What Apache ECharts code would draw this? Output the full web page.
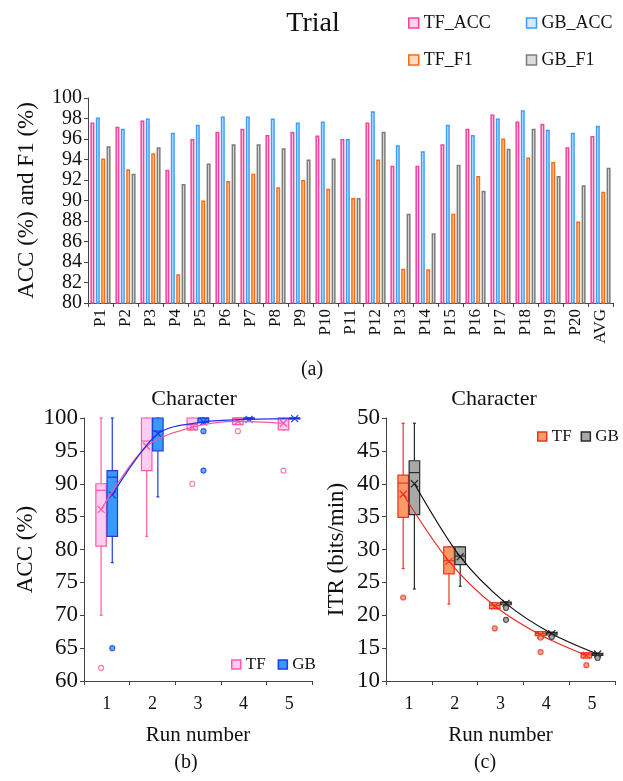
<!DOCTYPE html>
<html>
<head>
<meta charset="utf-8">
<script src="https://cdn.jsdelivr.net/npm/echarts@6/dist/echarts.min.js"></script>
<style>
  html, body { margin: 0; padding: 0; background: #fff; }
  #chart { width: 623px; height: 781px; }
</style>
</head>
<body>
<div id="chart"></div>
<script>
// ---------- (a) per-participant accuracy and F1 ----------
const participants = ['P1','P2','P3','P4','P5','P6','P7','P8','P9','P10','P11','P12','P13','P14','P15','P16','P17','P18','P19','P20','AVG'];
const tfAcc = [97.6, 97.2, 97.8, 93.0, 96.0, 96.7, 97.0, 96.4, 96.7, 96.35, 96.0, 97.6, 93.4, 93.4, 95.5, 97.0, 98.4, 97.7, 97.5, 95.2, 96.3];
const gbAcc = [98.1, 97.0, 98.0, 96.6, 97.4, 98.2, 98.2, 98.0, 97.6, 97.7, 96.0, 98.7, 95.4, 94.8, 97.4, 96.4, 98.0, 98.8, 96.9, 96.6, 97.3];
const tfF1  = [94.1, 93.05, 94.6, 82.8, 90.0, 91.9, 92.6, 91.3, 92.0, 91.15, 90.25, 94.0, 83.35, 83.3, 88.7, 92.4, 96.05, 94.2, 93.75, 87.95, 90.85];
const gbF1  = [95.3, 92.6, 95.2, 91.6, 93.6, 95.5, 95.5, 95.1, 94.0, 94.1, 90.25, 96.7, 88.7, 86.8, 93.5, 90.95, 95.05, 97.0, 92.4, 91.5, 93.2];

// ---------- (b) ACC per run number ----------
const runs = ['1', '2', '3', '4', '5'];
const accTfLow  = [70, 82, 98.2, 99, 98.2];
const accTfQ1   = [80.5, 92, 98.2, 99, 98.2];
const accTfMed  = [89, 96.5, 99, 100, 100];
const accTfQ3   = [90, 100, 100, 100, 100];
const accTfHigh = [100, 100, 100, 100, 100];
const accTfMean = [86.1, 95.7, 98.6, 99.5, 99.2];
const accTfOut  = [[1, 62], [3, 90], [4, 98], [5, 92]];

const accGbLow  = [78, 88, 99, 100, 100];
const accGbQ1   = [82, 95, 99.3, 100, 100];
const accGbMed  = [91, 98, 100, 100, 100];
const accGbQ3   = [92, 100, 100, 100, 100];
const accGbHigh = [100, 100, 100, 100, 100];
const accGbMean = [88.3, 97.6, 99.4, 99.8, 99.9];
const accGbOut  = [[1, 65], [3, 98], [3, 92]];

// ---------- (c) ITR per run number ----------
const itrTfLow  = [27.1, 21.7, 21.0, 16.9, 13.5];
const itrTfQ1   = [34.9, 26.3, 21.0, 16.9, 13.5];
const itrTfMed  = [40.1, 28.3, 21.5, 17.2, 14.0];
const itrTfQ3   = [41.3, 30.4, 21.9, 17.5, 14.3];
const itrTfHigh = [49.2, 30.4, 21.9, 17.5, 14.3];
const itrTfMean = [38.4, 28.2, 21.4, 17.0, 13.9];
const itrTfOut  = [[1, 22.7], [3, 18.0], [4, 16.6], [4, 14.4], [5, 12.4]];

const itrGbLow  = [24.0, 24.4, 21.6, 17.0, 13.9];
const itrGbQ1   = [35.3, 27.7, 21.6, 17.0, 13.9];
const itrGbMed  = [41.7, 29.0, 21.9, 17.3, 14.1];
const itrGbQ3   = [43.5, 30.4, 22.0, 17.4, 14.2];
const itrGbHigh = [49.2, 30.4, 22.0, 17.4, 14.2];
const itrGbMean = [40.0, 28.9, 21.8, 17.2, 14.1];
const itrGbOut  = [[3, 21.1], [3, 19.3], [4, 16.7], [5, 13.5]];

// ---------- styling ----------
const FONT = "'Liberation Serif', 'Times New Roman', serif";
const INK = '#111';
const AXIS = '#444';
const OFF_TF = -0.125, OFF_GB = 0.12, BOX_W = 0.23;

const barStyles = {
  TF_ACC: { fill: '#ffd3ea', stroke: '#ff3d9e' },
  GB_ACC: { fill: '#d3e9ff', stroke: '#3b9dff' },
  TF_F1:  { fill: '#ffdcc2', stroke: '#ff6a10' },
  GB_F1:  { fill: '#dcdcdc', stroke: '#7c7c7c' }
};
const boxStyles = {
  accTF: { fill: '#ffccf2', stroke: '#ff5aa5', line: '#ff5a9e' },
  accGB: { fill: '#3a98ff', stroke: '#1e3ee0', line: '#1f2fea' },
  itrTF: { fill: '#ff9a66', stroke: '#ee3322', line: '#ee2a1e' },
  itrGB: { fill: '#a9a9a9', stroke: '#2a2a2a', line: '#111111' }
};

function boxRows(low, q1, med, q3, high, mean) {
  return runs.map((r, i) => [i + 1, low[i], q1[i], med[i], q3[i], high[i], mean[i]]);
}

// box, whiskers, median and an "x" at the mean
function boxRenderer(off, st) {
  return function (params, api) {
    const x = api.value(0) + off;
    const p = v => api.coord([x, v]);
    const half = api.size([BOX_W, 0])[0] / 2;
    const cx = p(api.value(1))[0];
    const yLow = p(api.value(1))[1], yQ1 = p(api.value(2))[1], yMed = p(api.value(3))[1];
    const yQ3 = p(api.value(4))[1], yHigh = p(api.value(5))[1], yMean = p(api.value(6))[1];
    const ls = { stroke: st.stroke, lineWidth: 1.2 };
    const k = 3.5;
    return {
      type: 'group',
      children: [
        { type: 'line', shape: { x1: cx, y1: yLow, x2: cx, y2: yQ1 }, style: ls },
        { type: 'line', shape: { x1: cx, y1: yQ3, x2: cx, y2: yHigh }, style: ls },
        { type: 'line', shape: { x1: cx - 1.5, y1: yLow, x2: cx + 1.5, y2: yLow }, style: ls },
        { type: 'line', shape: { x1: cx - 1.5, y1: yHigh, x2: cx + 1.5, y2: yHigh }, style: ls },
        { type: 'rect', shape: { x: cx - half, y: yQ3, width: half * 2, height: Math.max(yQ1 - yQ3, 1) },
          style: { fill: st.fill, stroke: st.stroke, lineWidth: 1.2 } },
        { type: 'line', shape: { x1: cx - half, y1: yMed, x2: cx + half, y2: yMed }, style: ls },
        { type: 'line', shape: { x1: cx - k, y1: yMean - k, x2: cx + k, y2: yMean + k }, style: ls },
        { type: 'line', shape: { x1: cx - k, y1: yMean + k, x2: cx + k, y2: yMean - k }, style: ls }
      ]
    };
  };
}

function boxSeries(name, axisIdx, rows, off, st) {
  return {
    name: name, type: 'custom', xAxisIndex: axisIdx, yAxisIndex: axisIdx,
    renderItem: boxRenderer(off, st),
    itemStyle: { color: st.fill, borderColor: st.stroke, borderWidth: 1 },
    encode: { x: 0, y: [1, 2, 3, 4, 5, 6] },
    data: rows, z: 2
  };
}
function meanLine(axisIdx, mean, off, st) {
  return {
    type: 'line', xAxisIndex: axisIdx, yAxisIndex: axisIdx, smooth: 0.3,
    symbol: 'none', lineStyle: { color: st.line, width: 1.2 },
    data: mean.map((v, i) => [i + 1 + off, v]), z: 3, silent: true
  };
}
function outlierSeries(axisIdx, pts, off, st, filled) {
  return {
    type: 'scatter', xAxisIndex: axisIdx, yAxisIndex: axisIdx,
    symbol: 'circle', symbolSize: 5,
    itemStyle: { color: filled ? st.fill : '#fff', borderColor: st.stroke, borderWidth: 1.2 },
    data: pts.map(d => [d[0] + off, d[1]]), z: 4, silent: true
  };
}

const barSeries = [
  ['TF_ACC', tfAcc], ['GB_ACC', gbAcc], ['TF_F1', tfF1], ['GB_F1', gbF1]
].map(([name, vals]) => ({
  name: name, type: 'bar', xAxisIndex: 0, yAxisIndex: 0,
  barWidth: 4, barGap: '35%',
  itemStyle: { color: barStyles[name].fill, borderColor: barStyles[name].stroke, borderWidth: 1.5 },
  data: vals
}));

function legendItem(name, st) {
  return { name: name, icon: 'rect', itemStyle: { color: st.fill, borderColor: st.stroke, borderWidth: 1.5 } };
}
function legendBox(left, top, gap, size, font, items) {
  return {
    left: left, top: top, width: 240, orient: 'horizontal', padding: 0,
    itemWidth: size, itemHeight: size, itemGap: gap, selectedMode: false,
    formatter: n => n.split('·')[0],
    textStyle: { fontFamily: FONT, fontSize: font, color: INK },
    data: items
  };
}

const axisLine = { show: true, lineStyle: { color: AXIS, width: 1 } };
const tickOut = { show: true, inside: false, length: 4, lineStyle: { color: AXIS } };

const chart = echarts.init(document.getElementById('chart'), null, { renderer: 'canvas' });
chart.setOption({
  backgroundColor: '#fff',
  animation: false,
  textStyle: { fontFamily: FONT, color: INK },
  grid: [
    { left: 88, right: 10, top: 98, height: 205 },
    { left: 84, width: 228, top: 418, height: 263 },
    { left: 386, width: 229, top: 418, height: 263 }
  ],
  legend: [
    legendBox(408, 14, 35, 10, 18, [legendItem('TF_ACC', barStyles.TF_ACC), legendItem('GB_ACC', barStyles.GB_ACC)]),
    legendBox(408, 51, 53, 10, 18, [legendItem('TF_F1', barStyles.TF_F1), legendItem('GB_F1', barStyles.GB_F1)]),
    legendBox(231, 656, 12, 9, 17, [legendItem('TF·b', boxStyles.accTF), legendItem('GB·b', boxStyles.accGB)]),
    legendBox(537, 428, 9, 9, 17, [legendItem('TF·c', boxStyles.itrTF), legendItem('GB·c', boxStyles.itrGB)])
  ],
  xAxis: [
    { type: 'category', gridIndex: 0, position: 'bottom', data: participants, axisLine: axisLine,
      axisTick: Object.assign({}, tickOut, { alignWithLabel: false }),
      axisLabel: { interval: 0, rotate: 90, fontSize: 17, color: INK, fontFamily: FONT, margin: 6 } },
    { type: 'value', gridIndex: 1, min: 0.5, max: 5.5, show: false },
    { type: 'value', gridIndex: 2, min: 0.5, max: 5.5, show: false },
    { type: 'category', gridIndex: 1, position: 'bottom', data: runs, axisLine: axisLine, axisTick: tickOut,
      axisLabel: { fontSize: 18, color: INK, fontFamily: FONT, margin: 14 },
      name: 'Run number', nameLocation: 'middle', nameGap: 44,
      nameTextStyle: { fontSize: 21, color: INK, fontFamily: FONT } },
    { type: 'category', gridIndex: 2, position: 'bottom', data: runs, axisLine: axisLine, axisTick: tickOut,
      axisLabel: { fontSize: 18, color: INK, fontFamily: FONT, margin: 14 },
      name: 'Run number', nameLocation: 'middle', nameGap: 44,
      nameTextStyle: { fontSize: 21, color: INK, fontFamily: FONT } }
  ],
  yAxis: [
    { type: 'value', gridIndex: 0, min: 80, max: 100, interval: 2,
      axisLine: axisLine, axisTick: tickOut, splitLine: { show: false },
      axisLabel: { fontSize: 20, color: INK, fontFamily: FONT, margin: 6, showMinLabel: true, showMaxLabel: true, hideOverlap: false },
      name: 'ACC (%) and F1 (%)', nameLocation: 'middle', nameGap: 50,
      nameTextStyle: { fontSize: 23, color: INK, fontFamily: FONT } },
    { type: 'value', gridIndex: 1, min: 60, max: 100, interval: 5,
      axisLine: axisLine, axisTick: tickOut, splitLine: { show: false },
      axisLabel: { fontSize: 23, color: INK, fontFamily: FONT, margin: 6, showMinLabel: true, showMaxLabel: true },
      name: 'ACC (%)', nameLocation: 'middle', nameGap: 47,
      nameTextStyle: { fontSize: 23, color: INK, fontFamily: FONT } },
    { type: 'value', gridIndex: 2, min: 10, max: 50, interval: 5,
      axisLine: axisLine, axisTick: tickOut, splitLine: { show: false },
      axisLabel: { fontSize: 23, color: INK, fontFamily: FONT, margin: 6, showMinLabel: true, showMaxLabel: true },
      name: 'ITR (bits/min)', nameLocation: 'middle', nameGap: 38,
      nameTextStyle: { fontSize: 23, color: INK, fontFamily: FONT } }
  ],
  graphic: [
    { type: 'text', x: 313, y: 24, style: { text: 'Trial', font: '28px ' + FONT, fill: INK, textAlign: 'center', textVerticalAlign: 'middle' } },
    { type: 'text', x: 312, y: 370, style: { text: '(a)', font: '20px ' + FONT, fill: INK, textAlign: 'center', textVerticalAlign: 'middle' } },
    { type: 'text', x: 194, y: 399, style: { text: 'Character', font: '22px ' + FONT, fill: INK, textAlign: 'center', textVerticalAlign: 'middle' } },
    { type: 'text', x: 494, y: 399, style: { text: 'Character', font: '22px ' + FONT, fill: INK, textAlign: 'center', textVerticalAlign: 'middle' } },
    { type: 'text', x: 186, y: 763, style: { text: '(b)', font: '20px ' + FONT, fill: INK, textAlign: 'center', textVerticalAlign: 'middle' } },
    { type: 'text', x: 485, y: 763, style: { text: '(c)', font: '20px ' + FONT, fill: INK, textAlign: 'center', textVerticalAlign: 'middle' } }
  ],
  series: [].concat(
    barSeries,
    [
      boxSeries('TF·b', 1, boxRows(accTfLow, accTfQ1, accTfMed, accTfQ3, accTfHigh, accTfMean), OFF_TF, boxStyles.accTF),
      boxSeries('GB·b', 1, boxRows(accGbLow, accGbQ1, accGbMed, accGbQ3, accGbHigh, accGbMean), OFF_GB, boxStyles.accGB),
      meanLine(1, accTfMean, OFF_TF, boxStyles.accTF),
      meanLine(1, accGbMean, OFF_GB, boxStyles.accGB),
      outlierSeries(1, accTfOut, OFF_TF, boxStyles.accTF, false),
      outlierSeries(1, accGbOut, OFF_GB, boxStyles.accGB, true),

      boxSeries('TF·c', 2, boxRows(itrTfLow, itrTfQ1, itrTfMed, itrTfQ3, itrTfHigh, itrTfMean), OFF_TF, boxStyles.itrTF),
      boxSeries('GB·c', 2, boxRows(itrGbLow, itrGbQ1, itrGbMed, itrGbQ3, itrGbHigh, itrGbMean), OFF_GB, boxStyles.itrGB),
      meanLine(2, itrTfMean, OFF_TF, boxStyles.itrTF),
      meanLine(2, itrGbMean, OFF_GB, boxStyles.itrGB),
      outlierSeries(2, itrTfOut, OFF_TF, { fill: '#f4876a', stroke: '#e8412c' }, true),
      outlierSeries(2, itrGbOut, OFF_GB, { fill: '#9a9a9a', stroke: '#333' }, true)
    ]
  )
});
</script>
</body>
</html>
